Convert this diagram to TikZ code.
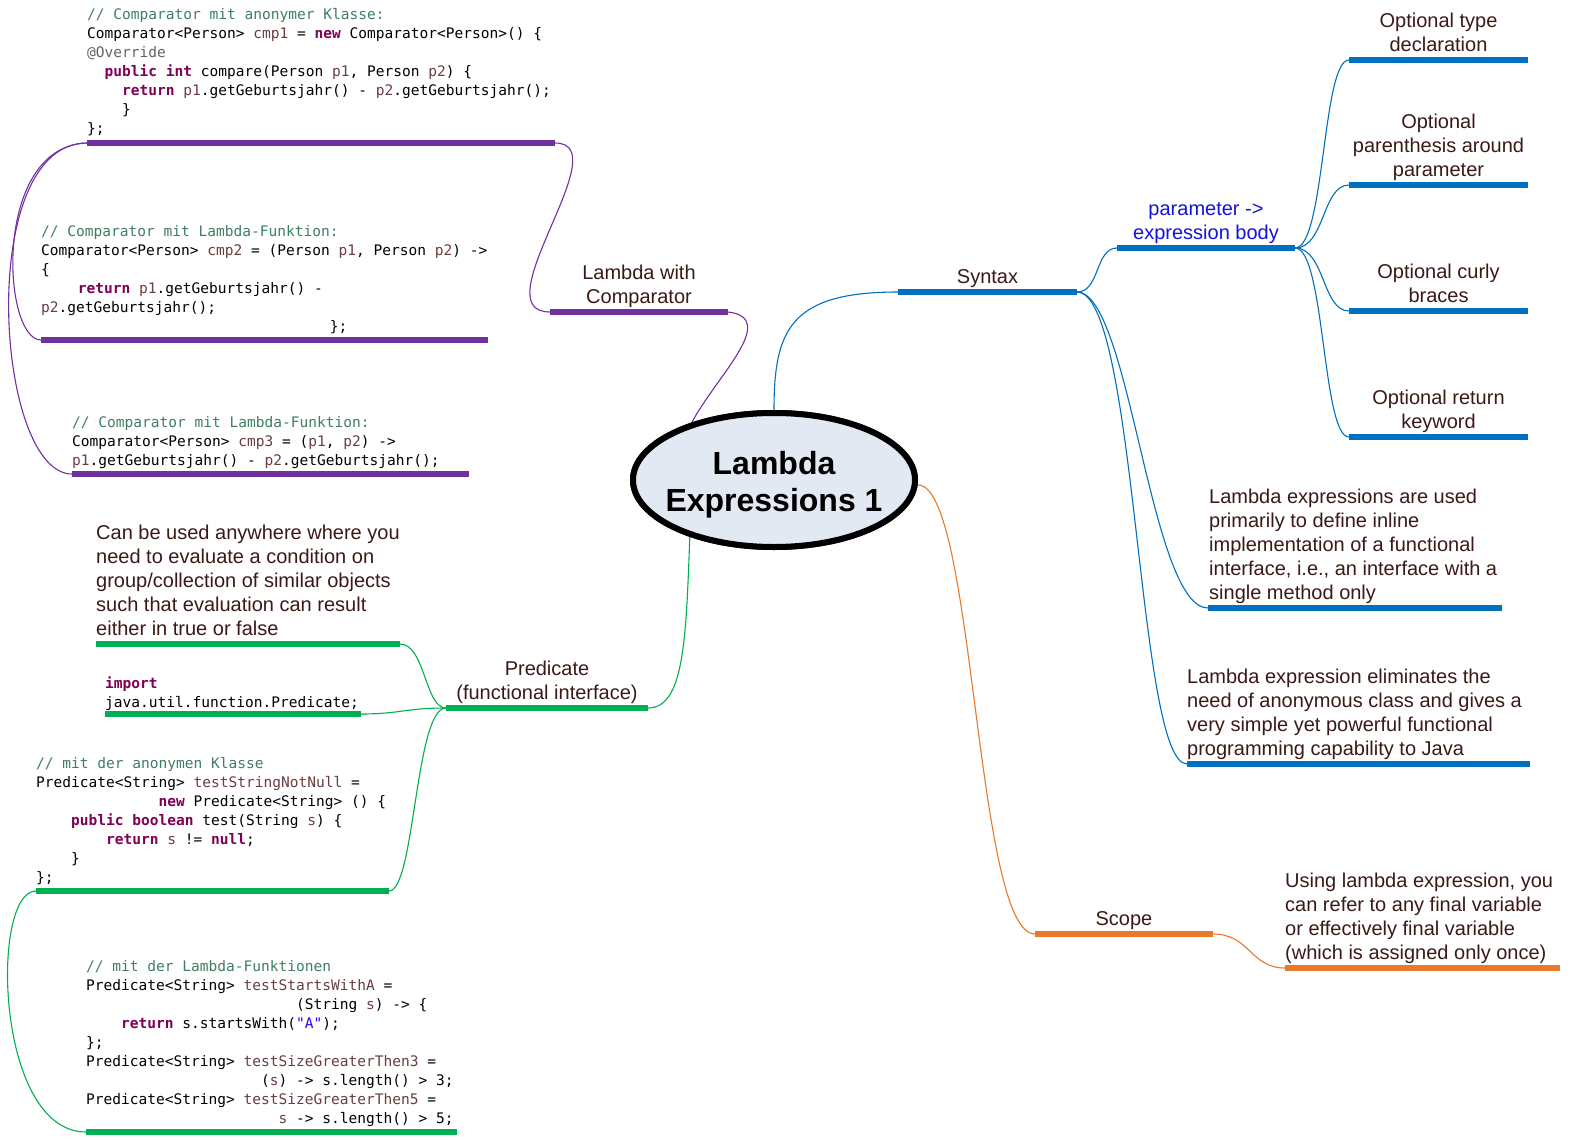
\documentclass[tikz,border=0pt]{standalone}
\usepackage{fontspec}
\setmainfont{Liberation Sans}
\setmonofont{DejaVu Sans Mono}
\usetikzlibrary{shapes.geometric}
\definecolor{cpurple}{HTML}{7030A0}
\definecolor{cblue}{HTML}{0070C0}
\definecolor{cgreen}{HTML}{00B050}
\definecolor{corange}{HTML}{E8792A}
\definecolor{tc}{HTML}{3B1A16}
\definecolor{pblue}{HTML}{1414D8}
\definecolor{kwc}{HTML}{7F0055}
\definecolor{varc}{HTML}{6A3E3E}
\definecolor{cmc}{HTML}{3F7F5F}
\definecolor{strc}{HTML}{2A00FF}
\definecolor{annc}{HTML}{646464}
\definecolor{ellfill}{HTML}{E3E9F3}
\newcommand\kw[1]{\textcolor{kwc}{\bfseries #1}}
\newcommand\vr[1]{\textcolor{varc}{#1}}
\newcommand\cmt[1]{\textcolor{cmc}{#1}}
\newcommand\jstr[1]{\textcolor{strc}{#1}}
\newcommand\cdfont{\ttfamily\fontsize{14.53}{19}\selectfont}
\newlength\cwd
\setlength\cwd{8.747pt}
\newcommand\ind[1]{\leavevmode\kern#1\cwd\relax}
\tikzset{
  bar/.style={line width=6pt},
  conn/.style={line width=1.1pt},
  lbl/.style={font=\fontsize{20}{24}\selectfont, text=tc, inner sep=0pt, align=center, anchor=south,
    execute at begin node=\strut, execute at end node=\strut},
  para/.style={lbl, align=left, anchor=south west},
  code/.style={font=\cdfont, text=black, inner sep=0pt, align=left, anchor=north west,
    execute at begin node=\strut},
}
\begin{document}
\begin{tikzpicture}[x=1pt,y=-1pt]
\fill[white] (0,0) rectangle (1572,1140);
\useasboundingbox (0,0) rectangle (1572,1140);

% bar end coordinates
\coordinate (synL) at (898,292);   \coordinate (synR) at (1077,292);
\coordinate (parL) at (1117,248);  \coordinate (parR) at (1295,248);
\coordinate (o1L) at (1349,60);    \coordinate (o1R) at (1528,60);
\coordinate (o2L) at (1349,185);   \coordinate (o2R) at (1528,185);
\coordinate (o3L) at (1349,311);   \coordinate (o3R) at (1528,311);
\coordinate (o4L) at (1349,437);   \coordinate (o4R) at (1528,437);
\coordinate (usedL) at (1208,608); \coordinate (usedR) at (1502,608);
\coordinate (elimL) at (1187,764); \coordinate (elimR) at (1530,764);
\coordinate (compL) at (550,312);  \coordinate (compR) at (728,312);
\coordinate (c1L) at (87,143);     \coordinate (c1R) at (555,143);
\coordinate (c2L) at (41,340);     \coordinate (c2R) at (488,340);
\coordinate (c3L) at (72,474);     \coordinate (c3R) at (469,474);
\coordinate (predL) at (446,708);  \coordinate (predR) at (648,708);
\coordinate (canL) at (96,644);    \coordinate (canR) at (400,644);
\coordinate (impL) at (105,714);   \coordinate (impR) at (361,714);
\coordinate (anonL) at (36,891);   \coordinate (anonR) at (389,891);
\coordinate (lamL) at (86,1132);   \coordinate (lamR) at (457,1132);
\coordinate (scL) at (1035,934);   \coordinate (scR) at (1213,934);
\coordinate (usL) at (1285,968);   \coordinate (usR) at (1560,968);

% central ellipse (for anchors)
\node[ellipse, draw=black, line width=6pt, fill=ellfill, minimum width=282pt, minimum height=134pt, inner sep=0pt] (ell) at (774,480) {};

% connectors
\begin{scope}[conn, cblue]
\draw (ell.north) .. controls (774,330) and (790,292) .. (synL);
\draw (synR) .. controls (1100,292) and (1095,248) .. (parL);
\draw (synR) .. controls (1130,292) and (1150,608) .. (usedL);
\draw (synR) .. controls (1137,292) and (1137,764) .. (elimL);
\draw (parR) .. controls (1325,248) and (1322,60) .. (o1L);
\draw (parR) .. controls (1325,248) and (1322,185) .. (o2L);
\draw (parR) .. controls (1325,248) and (1322,311) .. (o3L);
\draw (parR) .. controls (1325,248) and (1322,437) .. (o4L);
\end{scope}
\begin{scope}[conn, cpurple]
\draw (ell.145) .. controls (715,378) and (780,318) .. (compR);
\draw (compL) .. controls (480,312) and (620,143) .. (c1R);
\draw (c1L) .. controls (-8,146) and (2,340) .. (c2L);
\draw (c1L) .. controls (-25,143) and (-5,474) .. (c3L);
\end{scope}
\begin{scope}[conn, cgreen]
\draw (ell.214) .. controls (686,640) and (684,708) .. (predR);
\draw (predL) .. controls (425,708) and (425,644) .. (canR);
\draw (predL) .. controls (405,708) and (400,714) .. (impR);
\draw (predL) .. controls (415,708) and (415,891) .. (anonR);
\draw (anonL) .. controls (-10,891) and (-5,1132) .. (lamL);
\end{scope}
\begin{scope}[conn, corange]
\draw (ell.-2) .. controls (975,483) and (975,934) .. (scL);
\draw (scR) .. controls (1250,934) and (1250,968) .. (usL);
\end{scope}

% bars
\begin{scope}[bar, cblue]
\draw (synL) -- (synR); \draw (parL) -- (parR);
\draw (o1L) -- (o1R); \draw (o2L) -- (o2R); \draw (o3L) -- (o3R); \draw (o4L) -- (o4R);
\draw (usedL) -- (usedR); \draw (elimL) -- (elimR);
\end{scope}
\begin{scope}[bar, cpurple]
\draw (compL) -- (compR); \draw (c1L) -- (c1R); \draw (c2L) -- (c2R); \draw (c3L) -- (c3R);
\end{scope}
\begin{scope}[bar, cgreen]
\draw (predL) -- (predR); \draw (canL) -- (canR); \draw (impL) -- (impR);
\draw (anonL) -- (anonR); \draw (lamL) -- (lamR);
\end{scope}
\begin{scope}[bar, corange]
\draw (scL) -- (scR); \draw (usL) -- (usR);
\end{scope}

% ellipse on top of connectors
\node[ellipse, draw=black, line width=6pt, fill=ellfill, minimum width=282pt, minimum height=134pt, inner sep=0pt] (ell2) at (774,480) {};
\node[font=\bfseries\fontsize{32}{37}\selectfont, align=center, inner sep=0pt, anchor=north,
  execute at begin node=\strut] (ttl) at (774,451.5) {Lambda\\Expressions 1};

% labels
\node[lbl] (synT) at (987.5,290.5) {Syntax};
\node[lbl, text=pblue] (parT) at (1206,246.5) {parameter ->\\expression body};
\node[lbl] (o1T) at (1438.5,58.5) {Optional type\\declaration};
\node[lbl] (o2T) at (1438.5,183.5) {Optional\\parenthesis around\\parameter};
\node[lbl] (o3T) at (1438.5,309.5) {Optional curly\\braces};
\node[lbl] (o4T) at (1438.5,435.5) {Optional return\\keyword};
\node[para] (usedT) at (1209,607) {Lambda expressions are used\\primarily to define inline\\implementation of a functional\\interface, i.e., an interface with a\\single method only};
\node[para] (elimT) at (1187,763) {Lambda expression eliminates the\\need of anonymous class and gives a\\very simple yet powerful functional\\programming capability to Java};
\node[lbl] (compT) at (639,310.5) {Lambda with\\Comparator};
\node[lbl] (predT) at (547,706.5) {Predicate\\(functional interface)};
\node[para] (canT) at (96,643) {Can be used anywhere where you\\need to evaluate a condition on\\group/collection of similar objects\\such that evaluation can result\\either in true or false};
\node[lbl] (scT) at (1124,932.5) {Scope};
\node[para] (usT) at (1285,967) {Using lambda expression, you\\can refer to any final variable\\or effectively final variable\\(which is assigned only once)};

% code blocks
\node[code] (code1) at (87,8.2) {\cmt{// Comparator mit anonymer Klasse:}\\
Comparator<Person> \vr{cmp1} = \kw{new} Comparator<Person>() \{\\
\textcolor{annc}{@Override}\\
\ind{2}\kw{public} \kw{int} compare(Person \vr{p1}, Person \vr{p2}) \{\\
\ind{4}\kw{return} \vr{p1}.getGeburtsjahr() - \vr{p2}.getGeburtsjahr();\\
\ind{4}\}\\
\};};
\node[code] (code2) at (41,225.2) {\cmt{// Comparator mit Lambda-Funktion:}\\
Comparator<Person> \vr{cmp2} = (Person \vr{p1}, Person \vr{p2}) ->\\
\{\\
\ind{4.2}\kw{return} \vr{p1}.getGeburtsjahr() -\\
\vr{p2}.getGeburtsjahr();\\
\ind{33}\};};
\node[code] (code3) at (72,416.2) {\cmt{// Comparator mit Lambda-Funktion:}\\
Comparator<Person> \vr{cmp3} = (\vr{p1}, \vr{p2}) ->\\
\vr{p1}.getGeburtsjahr() - \vr{p2}.getGeburtsjahr();};
\node[code] (imp) at (105,676.2) {\kw{import}\\java.util.function.Predicate;};
\node[code] (anon) at (36,757.2) {\cmt{// mit der anonymen Klasse}\\
Predicate<String> \vr{testStringNotNull} =\\
\ind{14}\kw{new} Predicate<String> () \{\\
\ind{4}\kw{public} \kw{boolean} test(String \vr{s}) \{\\
\ind{8}\kw{return} \vr{s} != \kw{null};\\
\ind{4}\}\\
\};};
\node[code] (lam) at (86,960.2) {\cmt{// mit der Lambda-Funktionen}\\
Predicate<String> \vr{testStartsWithA} =\\
\ind{24}(String \vr{s}) -> \{\\
\ind{4}\kw{return} s.startsWith(\jstr{"A"});\\
\};\\
Predicate<String> \vr{testSizeGreaterThen3} =\\
\ind{20}(\vr{s}) -> s.length() > 3;\\
Predicate<String> \vr{testSizeGreaterThen5} =\\
\ind{22}\vr{s} -> s.length() > 5;};
\end{tikzpicture}
\end{document}
